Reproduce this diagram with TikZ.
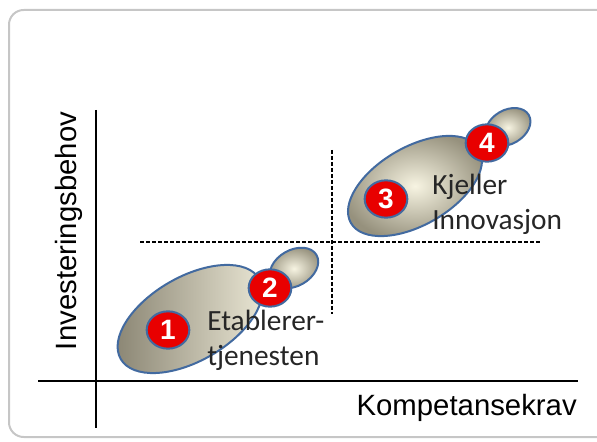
\documentclass[tikz,border=0pt]{standalone}
\usepackage{fontspec}
\setmainfont{Liberation Sans}
\newfontfamily\labelfont{Carlito}
\usetikzlibrary{shapes.geometric}
\definecolor{rimblue}{RGB}{66,106,160}
\definecolor{dotred}{RGB}{232,0,0}
\definecolor{blobin}{RGB}{247,244,226}
\definecolor{blobout}{RGB}{150,145,125}
\definecolor{blobdark}{RGB}{135,130,112}
\begin{document}
\begin{tikzpicture}[x=0.75pt,y=-0.75pt,
    blob/.style={inner color=blobin,outer color=blobout,draw=rimblue,line width=1.5pt},
    darkblob/.style={left color=blobdark,right color=blobin!90!blobout,draw=rimblue,line width=1.5pt},
    numdot/.style={ellipse,draw=rimblue,line width=1.5pt,fill=dotred,text=white,
      inner sep=0pt,minimum width=32pt,minimum height=28pt,font=\fontsize{21}{21}\bfseries\selectfont},
    axislabel/.style={font=\fontsize{22}{26}\selectfont,inner sep=0pt},
    blobtext/.style={font=\fontsize{22}{26}\labelfont,align=left,inner sep=0pt,text=black!85}]
    \useasboundingbox (0,0) rectangle (597,442);
    \draw[gray!45,line width=1.5pt,rounded corners=11pt] (9,10) rectangle (620,437);
    \coordinate (ytop) at (96,110);
    \coordinate (ybot) at (96,428);
    \coordinate (xleft) at (38,381);
    \coordinate (xright) at (578,381);
    \coordinate (hleft) at (140,242);
    \coordinate (hright) at (542,242);
    \coordinate (vtop) at (332,150);
    \coordinate (vbot) at (332,314);
    \draw[line width=2.2pt] (ytop) -- (ybot);
    \draw[line width=2.2pt] (xleft) -- (xright);
    \draw[dashed,line width=0.9pt,dash pattern=on 3pt off 1.5pt] (hleft) -- (hright);
    \draw[dashed,line width=0.9pt,dash pattern=on 3pt off 1.5pt] (vtop) -- (vbot);
    \shadedraw[darkblob,rotate around={30:(190,319)}] (190,319) ellipse [x radius=80,y radius=42];
    \shadedraw[blob,rotate around={30:(294,268)}] (294,268) ellipse [x radius=26,y radius=18];
    \shadedraw[blob,rotate around={30:(415,186)}] (415,186) ellipse [x radius=74,y radius=39];
    \shadedraw[blob,rotate around={30:(508,127)}] (508,127) ellipse [x radius=24,y radius=17];
    \node[numdot] (d1) at (168,330) {1};
    \node[numdot] (d2) at (270,288) {2};
    \node[numdot] (d3) at (386,199) {3};
    \node[numdot] (d4) at (487,143) {4};
    \node[blobtext,anchor=west] (etab) at (207,340) {Etablerer-\\tjenesten};
    \node[blobtext,anchor=west] (kjel) at (432,204) {Kjeller\\Innovasjon};
    \node[axislabel,anchor=east] (xlab) at (577,408) {Kompetansekrav};
    \node[axislabel,rotate=90] (ylab) at (69,231) {Investeringsbehov};
\end{tikzpicture}
\end{document}
